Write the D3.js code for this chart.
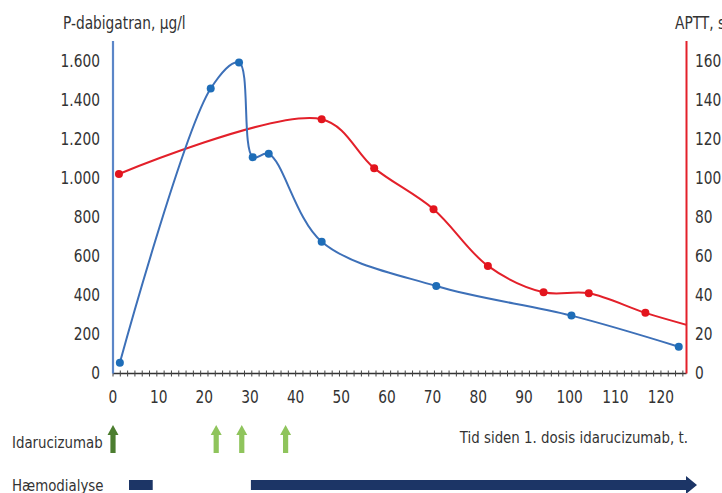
<!DOCTYPE html>
<html>
<head>
<meta charset="utf-8">
<script src="https://cdnjs.cloudflare.com/ajax/libs/d3/7.8.5/d3.min.js"></script>
<style>
  body { margin: 0; background: #fff; }
  svg text { font-family: "DejaVu Sans Condensed", "Liberation Sans Narrow", "Roboto", sans-serif; fill: #333; }
</style>
</head>
<body>
<div id="chart"></div>
<script>
// data
const dabiHours = [1.5, 21.4, 27.6, 30.6, 34.1, 45.7, 70.8, 100.4, 123.9];
const dabigatran = [55, 1457, 1590, 1106, 1123, 674, 447, 296, 137];
const apttHours = [1.3, 45.7, 57.2, 70.2, 82.1, 94.3, 104.2, 116.6, 127];
const aptt = [102, 130, 105, 84, 55, 41.5, 41, 31, 24];
const dabiTicks = [0, 200, 400, 600, 800, 1000, 1200, 1400, 1600];
const apttTicks = [0, 20, 40, 60, 80, 100, 120, 140, 160];
const hourTicks = [0, 10, 20, 30, 40, 50, 60, 70, 80, 90, 100, 110, 120];
const idaruDoses = [0, 22.6, 28.2, 37.8];
const dialysisStart = [3.5, 30.2];
const dialysisEnd = [8.7, 127.9];

const W = 722, H = 493;
const SX = 0.9; // squeeze text horizontally, the original uses a narrow face
const svg = d3.select("#chart").append("svg").attr("width", W).attr("height", H);

const x = d3.scaleLinear().domain([0, 125.6]).range([113, 686.5]);
const yL = d3.scaleLinear().domain([0, 1700]).range([373.5, 41]);
const yR = d3.scaleLinear().domain([0, 170]).range([373.5, 41]);

const fmt = d3.formatLocale({decimal: ",", thousands: ".", grouping: [3], currency: ["", ""]}).format(",d");

// narrow text helper
function label(sel, tx, ty, size, anchor) {
  return sel.attr("transform", "scale(" + SX + ",1)")
    .attr("x", (d, i) => (typeof tx === "function" ? tx(d, i) : tx) / SX)
    .attr("y", ty).attr("text-anchor", anchor || "start")
    .style("font-size", size + "px");
}

svg.append("clipPath").attr("id", "plot")
  .append("rect").attr("x", x(0)).attr("y", 0).attr("width", x(125.6) - x(0)).attr("height", 380);

// x axis with minor ticks
let xAxis = svg.append("g").attr("transform", "translate(0," + yL(0) + ")");
xAxis.append("line").attr("x1", x(0)).attr("x2", x(125.6)).attr("stroke", "#333").attr("stroke-width", 1.5);
xAxis.selectAll(".minor").data(d3.range(0, 125.6, 1.6)).enter().append("line")
  .attr("x1", d => x(d)).attr("x2", d => x(d)).attr("y1", -3).attr("y2", 3)
  .attr("stroke", "#444").attr("stroke-width", 1);
label(xAxis.selectAll(".lbl").data(hourTicks).enter().append("text"), d => x(d), 30, 17, "middle")
  .text(d => d);

// left axis
svg.append("line").attr("x1", x(0)).attr("x2", x(0)).attr("y1", yL(1700)).attr("y2", yL(0))
  .attr("stroke", "#5b86c8").attr("stroke-width", 2.2);
label(svg.selectAll(".ylab").data(dabiTicks).enter().append("text"), 100, d => yL(d) + 6, 17, "end")
  .text(d => fmt(d));
label(svg.append("text"), 63, 29, 17).text("P-dabigatran, μg/l");

// right axis
svg.append("line").attr("x1", x(125.6)).attr("x2", x(125.6)).attr("y1", yR(170)).attr("y2", yR(0))
  .attr("stroke", "#e3202a").attr("stroke-width", 2);
label(svg.selectAll(".yrlab").data(apttTicks).enter().append("text"), 695, d => yR(d) + 6, 17)
  .text(d => d);
label(svg.append("text"), 675, 29, 17).text("APTT, s");

// lines
const blue = dabiHours.map((h, i) => [h, dabigatran[i]]);
const red = apttHours.map((h, i) => [h, aptt[i]]);

let plot = svg.append("g").attr("clip-path", "url(#plot)");

plot.append("path").datum(red)
  .attr("d", d3.line().x(d => x(d[0])).y(d => yR(d[1])).curve(d3.curveCatmullRom.alpha(0.5)))
  .attr("fill", "none").attr("stroke", "#e3202a").attr("stroke-width", 2);
plot.append("path").datum(blue)
  .attr("d", d3.line().x(d => x(d[0])).y(d => yL(d[1])).curve(d3.curveCatmullRom.alpha(0.5)))
  .attr("fill", "none").attr("stroke", "#3d70b8").attr("stroke-width", 2);

plot.selectAll(".rdot").data(red.slice(0, -1)).enter().append("circle")
  .attr("cx", d => x(d[0])).attr("cy", d => yR(d[1])).attr("r", 4).attr("fill", "#e3141d");
plot.selectAll(".bdot").data(blue).enter().append("circle")
  .attr("cx", d => x(d[0])).attr("cy", d => yL(d[1])).attr("r", 4).attr("fill", "#1e6db8");

// bottom annotations
label(svg.append("text"), 12, 448, 16.5).text("Idarucizumab");
label(svg.append("text"), 12, 491, 16.5).text("Hæmodialyse");
label(svg.append("text"), 688, 443, 16.5, "end").text("Tid siden 1. dosis idarucizumab, t.");

function upArrow(cx) {
  let top = 425, bot = 453, hw = 5.5, sw = 2.6, hh = 10;
  return "M" + cx + "," + top + "L" + (cx + hw) + "," + (top + hh) + "L" + (cx + sw) + "," + (top + hh) +
    "L" + (cx + sw) + "," + bot + "L" + (cx - sw) + "," + bot + "L" + (cx - sw) + "," + (top + hh) +
    "L" + (cx - hw) + "," + (top + hh) + "Z";
}
svg.selectAll(".dose").data(idaruDoses).enter().append("path")
  .attr("d", d => upArrow(x(d)))
  .attr("fill", (d, i) => i === 0 ? "#4b7d2f" : "#8fc45c");

svg.selectAll(".dial").data(dialysisStart).enter().append("path")
  .attr("d", (d, i) => {
    let x0 = x(d), x1 = x(dialysisEnd[i]), t = 480, b = 490;
    if (i === 0) return "M" + x0 + "," + t + "H" + x1 + "V" + b + "H" + x0 + "Z";
    let hb = x1 - 11;
    return "M" + x0 + "," + t + "H" + hb + "V" + (t - 4) + "L" + x1 + "," + (t + 5) +
      "L" + hb + "," + (b + 4) + "V" + b + "H" + x0 + "Z";
  })
  .attr("fill", "#1c3566");
</script>
</body>
</html>
